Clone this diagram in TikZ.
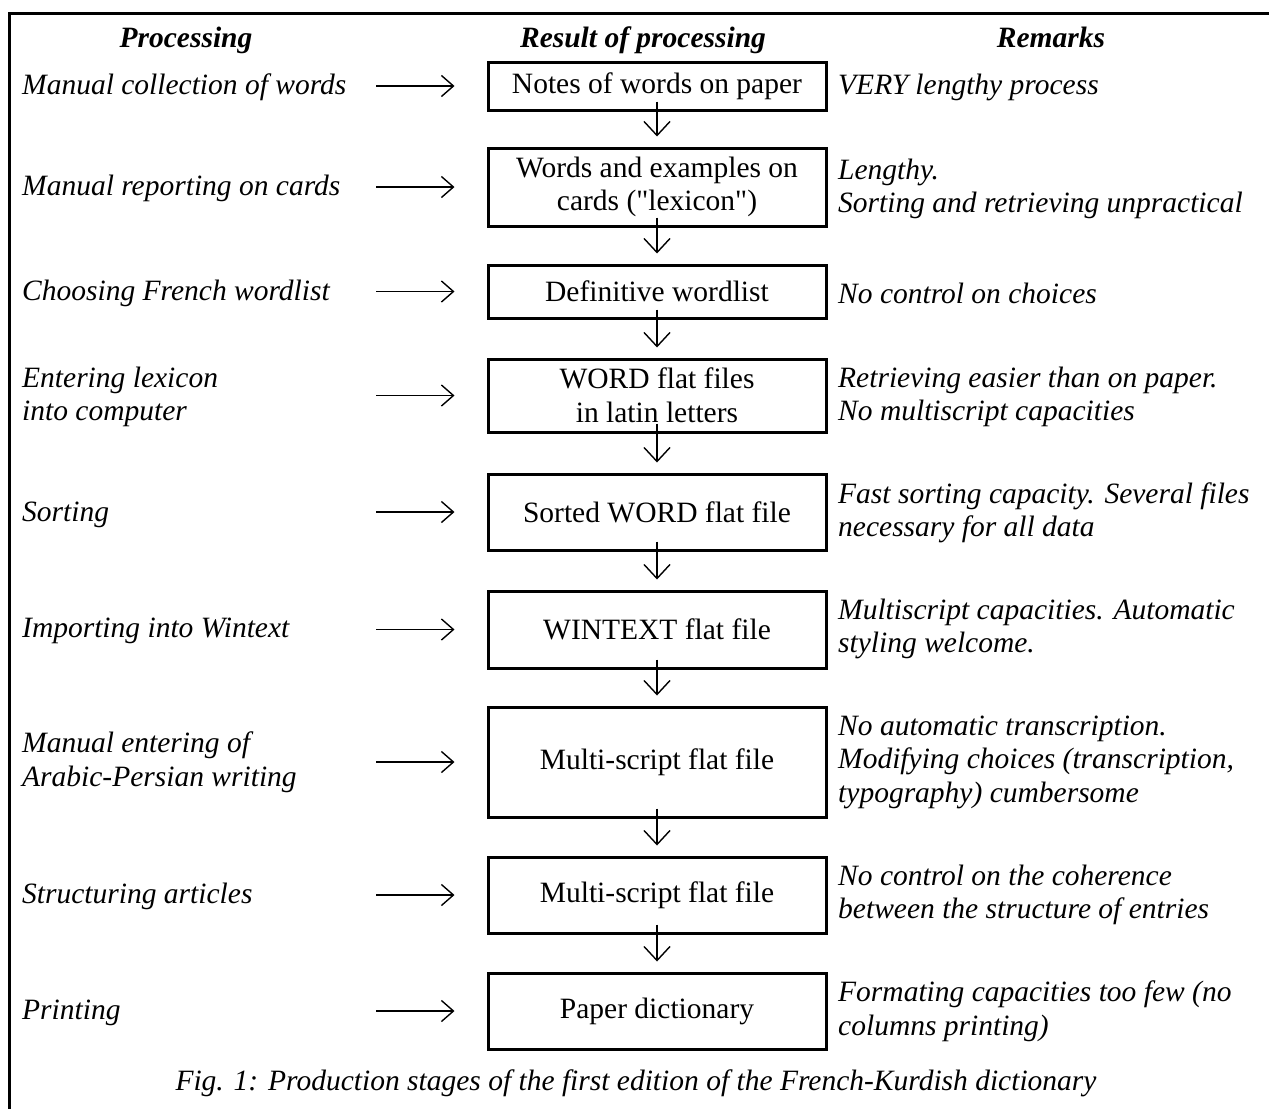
\documentclass[tikz,border=0pt]{standalone}
\usepackage{fontspec}
\setmainfont{Liberation Serif}
\newfontfamily\qfont{Liberation Serif}
\usetikzlibrary{arrows.meta}
\newcommand\fsz{\fontsize{29.5}{33.5}\selectfont}
\tikzset{
  proc/.style={anchor=west, inner sep=0pt, align=left, font=\fsz\itshape},
  rmk/.style={anchor=west, inner sep=0pt, align=left, font=\fsz\itshape},
  hdr/.style={inner sep=0pt, anchor=base, font=\fsz\bfseries\itshape},
  stagebox/.style={draw, line width=3pt, minimum width=338pt, inner sep=0pt, align=center, font=\fsz},
  harrow/.style={line width=1.4pt, -{Straight Barb[length=12pt,width=21pt]}},
  varrow/.style={line width=1.4pt, -{Straight Barb[length=14pt,width=26pt]}},
  framel/.style={line width=3pt}
}
\begin{document}
\begin{tikzpicture}[x=1pt,y=-1pt]
\useasboundingbox (0,0) rectangle (1269,1109);
% frame
\draw[framel] (1269,13) -- (9,13) -- (9,1109);
% headers
\node[hdr] (h1) at (186,47) {Processing};
\node[hdr] (h2) at (643,47) {Result of processing};
\node[hdr] (h3) at (1051,47) {Remarks};
% boxes
\node[stagebox, minimum height=48pt] (b1) at (657,86) {Notes of words on paper};
\node[stagebox, minimum height=78pt] (b2) at (657,187) {Words and examples on\\cards ({\qfont"}lexicon{\qfont"})};
\node[stagebox, minimum height=53pt] (b3) at (657,291.5) {Definitive wordlist};
\node[stagebox, minimum height=73pt] (b4) at (657,395.5) {WORD flat files\\in latin letters};
\node[stagebox, minimum height=76pt] (b5) at (657,512) {Sorted WORD flat file};
\node[stagebox, minimum height=77pt] (b6) at (657,629.5) {WINTEXT flat file};
\node[stagebox, minimum height=110pt] (b7) at (657,762) {Multi-script flat file};
\node[stagebox, minimum height=76pt] (b8) at (657,895) {Multi-script flat file};
\node[stagebox, minimum height=76pt] (b9) at (657,1011) {Paper dictionary};
% processing
\node[proc] (p1) at (22,87) {Manual collection of words};
\node[proc] (p2) at (22,188) {Manual reporting on cards};
\node[proc] (p3) at (22,293) {Choosing French wordlist};
\node[proc] (p4) at (22,397) {Entering lexicon\\into computer};
\node[proc] (p5) at (22,515) {Sorting};
\node[proc] (p6) at (22,631) {Importing into Wintext};
\node[proc] (p7) at (22,762) {Manual entering of\\Arabic-Persian writing};
\node[proc] (p8) at (22,896) {Structuring articles};
\node[proc] (p9) at (22,1013) {Printing};
% remarks
\node[rmk] (r1) at (838,87) {VERY lengthy process};
\node[rmk] (r2) at (838,189) {Lengthy.\\Sorting and retrieving unpractical};
\node[rmk] (r3) at (838,293) {No control on choices};
\node[rmk] (r4) at (838,397) {Retrieving easier than on paper.\\No multiscript capacities};
\node[rmk] (r5) at (838,513) {Fast sorting capacity. Several files\\necessary for all data};
\node[rmk] (r6) at (838,629) {Multiscript capacities. Automatic\\styling welcome.};
\node[rmk] (r7) at (838,762) {No automatic transcription.\\Modifying choices (transcription,\\typography) cumbersome};
\node[rmk] (r8) at (838,895) {No control on the coherence\\between the structure of entries};
\node[rmk] (r9) at (838,1011) {Formating capacities too few (no\\columns printing)};
% horizontal arrows
\foreach \i/\yy in {1/86,2/187,3/291.5,4/395.5,5/512,6/629.5,7/762,8/895,9/1011}{
  \coordinate (s\i) at (376,\yy);
  \draw[harrow] (s\i) -- ([xshift=-32pt]b\i.west);
}
% vertical arrows
\foreach \i/\j in {1/2,2/3,3/4,4/5,5/6,6/7,7/8,8/9}{
  \draw[varrow] ([yshift=10pt]b\i.south) -- ([yshift=10pt]b\j.north);
}
% caption
\node[inner sep=0pt, font=\fsz\itshape] (cap) at (636,1083) {Fig. 1: Production stages of the first edition of the French-Kurdish dictionary};
\end{tikzpicture}
\end{document}
